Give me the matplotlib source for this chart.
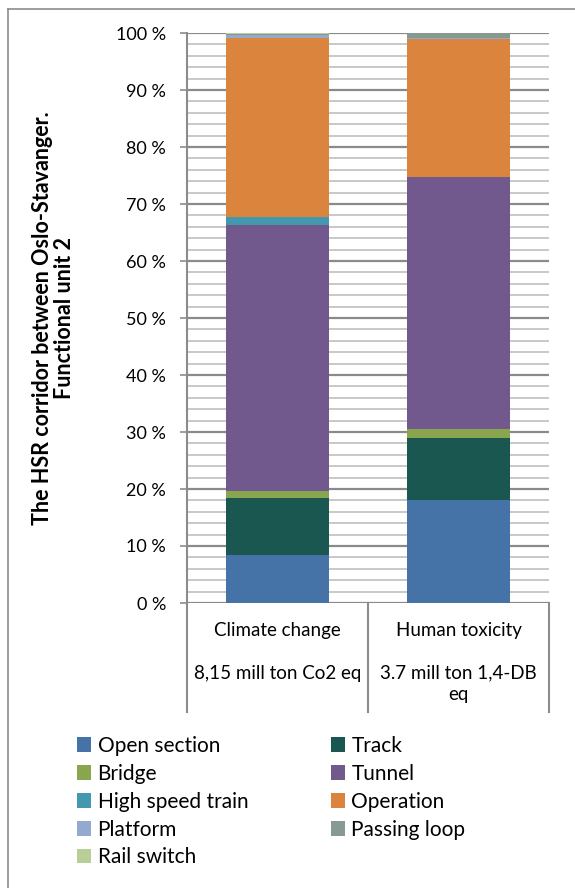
import matplotlib.pyplot as plt
import matplotlib.transforms as mtransforms
from matplotlib.patches import Patch
from matplotlib.lines import Line2D
import numpy as np

plt.rcParams['font.family'] = ['Lato', 'DejaVu Sans']

# data (share of total impact, %)
categories = ['Climate change\n\n8,15 mill ton Co2 eq', 'Human toxicity\n\n3.7 mill ton 1,4-DB\neq']
components = ['Open section', 'Track', 'Bridge', 'Tunnel', 'High speed train',
              'Operation', 'Platform', 'Passing loop', 'Rail switch']
climate = [8.4, 10.1, 1.1, 46.7, 1.4, 31.5, 0.4, 0.3, 0.1]
toxicity = [18.1, 10.9, 1.5, 44.2, 0.05, 24.2, 0.2, 0.85, 0.0]
colors = ['#4573a7', '#1a5750', '#89a54e', '#71598e', '#4298ae',
          '#db843d', '#93a9cf', '#879a91', '#b9cd96']

fig = plt.figure(figsize=(5.75, 8.88), dpi=100)
ax = fig.add_axes([187/575, 285/888, 362/575, 570/888])

x = np.arange(len(categories))
vals = np.array([climate, toxicity])
bottom = np.zeros(len(categories))
for i, name in enumerate(components):
    ax.bar(x, vals[:, i], bottom=bottom, width=0.57, color=colors[i],
           label=name, zorder=3)
    bottom += vals[:, i]

ax.set_xlim(-0.5, 1.5)
ax.set_ylim(0, 100)
ax.set_yticks(np.arange(0, 101, 10))
ax.set_yticklabels([f'{v} %' for v in range(0, 101, 10)])
ax.set_yticks(np.arange(0, 101, 2), minor=True)
ax.tick_params(axis='y', which='major', length=5, width=1.2, color='#8c8c8c',
               labelsize=13, pad=10)
ax.tick_params(axis='y', which='minor', length=0)
ax.grid(axis='y', which='minor', color='#c4c4c4', lw=1.3, zorder=0)
ax.grid(axis='y', which='major', color='#8a8a8a', lw=1.6, zorder=1)

ax.set_xticks([])
for s in ['top', 'right', 'bottom']:
    ax.spines[s].set_visible(False)
ax.spines['left'].set_color('#8c8c8c')
ax.spines['left'].set_linewidth(1.5)

# category boxes below the axis
trans = mtransforms.blended_transform_factory(ax.transData, ax.transAxes)
for xv in [-0.5, 0.5, 1.5]:
    ax.plot([xv, xv], [0, -0.191], color='#8c8c8c', lw=1.5, transform=trans,
            clip_on=False)
for xi, lab in zip(x, categories):
    ax.text(xi, -0.034, lab, transform=trans, ha='center', va='top',
            fontsize=13.5, linespacing=1.3)

ax.set_ylabel('The HSR corridor between Oslo-Stavanger.\nFunctional unit 2',
              fontsize=15.5, fontweight='bold', linespacing=1.05)
ax.yaxis.set_label_coords(-0.31, 0.5)

# legend, filled row-wise like the original
order = [0, 2, 4, 6, 8, 1, 3, 5, 7]
handles = [Patch(facecolor=colors[i], edgecolor='none') for i in order]
labels = [components[i] for i in order]
fig.legend(handles, labels, ncol=2, loc='upper left',
           bbox_to_anchor=(58/575, 1 - 717/888), frameon=False,
           fontsize=15, handlelength=0.7, handleheight=0.7,
           handletextpad=0.3, labelspacing=0.38, columnspacing=3.95)

# chart border (top and left only, as cropped)
fig.add_artist(Line2D([8/575, 1], [1 - 9/888, 1 - 9/888], color='#8c8c8c', lw=1.2))
fig.add_artist(Line2D([8/575, 8/575], [0, 1 - 9/888], color='#8c8c8c', lw=1.2))

fig.savefig('out.png', dpi=100)
